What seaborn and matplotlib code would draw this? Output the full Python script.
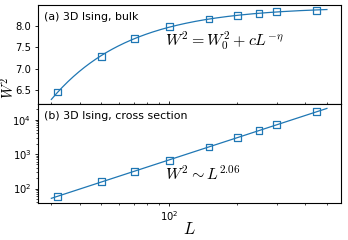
import numpy as np
import seaborn as sns
import matplotlib
matplotlib.use("Agg")
import matplotlib.pyplot as plt

plt.rcParams["mathtext.fontset"] = "cm"
plt.rcParams["font.family"] = ["DejaVu Sans"]

# system sizes and measured W^2
L_sizes = [32, 50, 70, 100, 150, 200, 250, 300, 450]
W2_bulk = [6.46, 7.29, 7.69, 7.98, 8.15, 8.24, 8.28, 8.32, 8.35]
W2_cross = [60, 156, 320, 668, 1620, 2985, 4790, 7350, 17100]

panel_a = "(a) 3D Ising, bulk"
panel_b = "(b) 3D Ising, cross section"
eq_a = r"$W^2=W_0^2+cL^{-\eta}$"
eq_b = r"$W^2\sim L^{2.06}$"

color = "#1f77b4"

L = np.array(L_sizes, dtype=float)
Lfit = np.geomspace(30, 500, 200)

# fit W^2 = W0^2 + c L^-eta (grid over eta, linear lsq for the rest)
best = None
for eta in np.linspace(0.2, 3.0, 281):
    A = np.column_stack([np.ones_like(L), L ** -eta])
    coef, res, _, _ = np.linalg.lstsq(A, np.array(W2_bulk), rcond=None)
    err = np.sum((A @ coef - W2_bulk) ** 2)
    if best is None or err < best[0]:
        best = (err, eta, coef)
_, eta, coef = best
fit_a = coef[0] + coef[1] * Lfit ** -eta

# power law fit in log-log
p = np.polyfit(np.log(L), np.log(W2_cross), 1)
fit_b = np.exp(np.polyval(p, np.log(Lfit)))

fig, (ax1, ax2) = plt.subplots(2, 1, figsize=(3.48, 2.4), dpi=100, sharex=True)
fig.subplots_adjust(left=0.108, right=0.979, top=0.979, bottom=0.155, hspace=0)

sns.lineplot(x=Lfit, y=fit_a, ax=ax1, color=color, lw=0.9)
sns.scatterplot(x=L, y=W2_bulk, ax=ax1, marker="s", s=24, fc="none", ec=color, lw=0.9, zorder=3)
sns.lineplot(x=Lfit, y=fit_b, ax=ax2, color=color, lw=0.9)
sns.scatterplot(x=L, y=W2_cross, ax=ax2, marker="s", s=24, fc="none", ec=color, lw=0.9, zorder=3)

ax1.set_xscale("log")
ax2.set_yscale("log")
ax1.set_yticks([6.5, 7.0, 7.5, 8.0])

for ax in (ax1, ax2):
    ax.tick_params(labelsize=7.2, length=2.5, width=0.6, pad=2)
    ax.tick_params(which="minor", length=1.5, width=0.5)
ax1.tick_params(axis="x", which="both", direction="in")

ax1.text(0.02, 0.93, panel_a, transform=ax1.transAxes, fontsize=7.9, va="top")
ax2.text(0.02, 0.93, panel_b, transform=ax2.transAxes, fontsize=7.9, va="top")
ax1.text(0.42, 0.635, eq_a, transform=ax1.transAxes, fontsize=11.5, va="center")
ax2.text(0.42, 0.295, eq_b, transform=ax2.transAxes, fontsize=11.5, va="center")

ax2.set_xlabel(r"$L$", fontsize=12, labelpad=-2)
fig.text(0.022, 0.635, r"$W^2$", rotation=90, fontsize=10.5, va="center", ha="center")

fig.savefig("out.png", dpi=100)
